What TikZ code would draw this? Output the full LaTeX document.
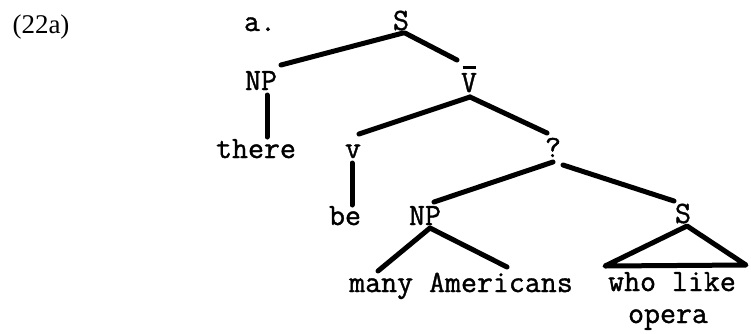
\documentclass[tikz,border=0pt]{standalone}
\usepackage{fontspec}
\newfontfamily\exfont{Liberation Serif}
\newfontfamily\twfont{Latin Modern Mono}[FakeBold=1.2]
\begin{document}
\begin{tikzpicture}[x=1pt,y=-1pt,
  lab/.style={font=\twfont\fontsize{31}{31}\selectfont, inner sep=0pt, anchor=base},
  branch/.style={line width=5pt, line cap=round, line join=round}]
\useasboundingbox (0,0) rectangle (751,333);
% labels
\node[anchor=base, inner sep=0pt, font=\exfont\fontsize{27}{27}\selectfont] (ex) at (41,33) {(22a)};
\node[lab] (a) at (260,31) {a.};
\node[lab] (S) at (401,30) {S};
\node[lab] (NP) at (261,90) {NP};
\node[lab] (Vbar) at (469,92) {\makebox[0pt][l]{\hspace{1.5pt}\raisebox{23pt}{\rule{13pt}{3pt}}}V};
\node[lab] (there) at (256,158) {there};
\node[lab] (v) at (353,158) {v};
\node[lab] (q) at (553,157) {?};
\node[lab] (be) at (345,225) {be};
\node[lab] (NP2) at (425,225) {NP};
\node[lab] (S2) at (683,223) {S};
\node[lab] (many) at (461,292) {many Americans};
\node[lab] (wholike) at (672,291) {who like};
\node[lab] (opera) at (668,323) {opera};
% branch end points
\coordinate (S-l) at (403,33);
\coordinate (S-r) at (405,33);
\coordinate (NP-t) at (281,65);
\coordinate (NP-b) at (267,95);
\coordinate (there-t) at (267,137);
\coordinate (V-t) at (457,60);
\coordinate (V-b) at (470,97);
\coordinate (v-t) at (359,134);
\coordinate (v-b) at (352,163);
\coordinate (be-t) at (352,205);
\coordinate (q-t) at (547,133);
\coordinate (q-l) at (553,162);
\coordinate (q-r) at (563,165);
\coordinate (NP2-t) at (434,202);
\coordinate (NP2-b) at (430,228);
\coordinate (many-t) at (378,271);
\coordinate (amer-t) at (507,267);
\coordinate (S2-t) at (674,201);
\coordinate (S2-b) at (687,226);
\coordinate (tri-l) at (605,266);
\coordinate (tri-r) at (746,265);
% branches
\draw[branch] (S-l) -- (NP-t);
\draw[branch] (S-r) -- (V-t);
\draw[branch] (NP-b) -- (there-t);
\draw[branch] (V-b) -- (v-t);
\draw[branch] (V-b) -- (q-t);
\draw[branch] (v-b) -- (be-t);
\draw[branch] (q-l) -- (NP2-t);
\draw[branch] (q-r) -- (S2-t);
\draw[branch] (NP2-b) -- (many-t);
\draw[branch] (NP2-b) -- (amer-t);
\draw[branch] (S2-b) -- (tri-l) -- (tri-r) -- cycle;
\end{tikzpicture}
\end{document}
